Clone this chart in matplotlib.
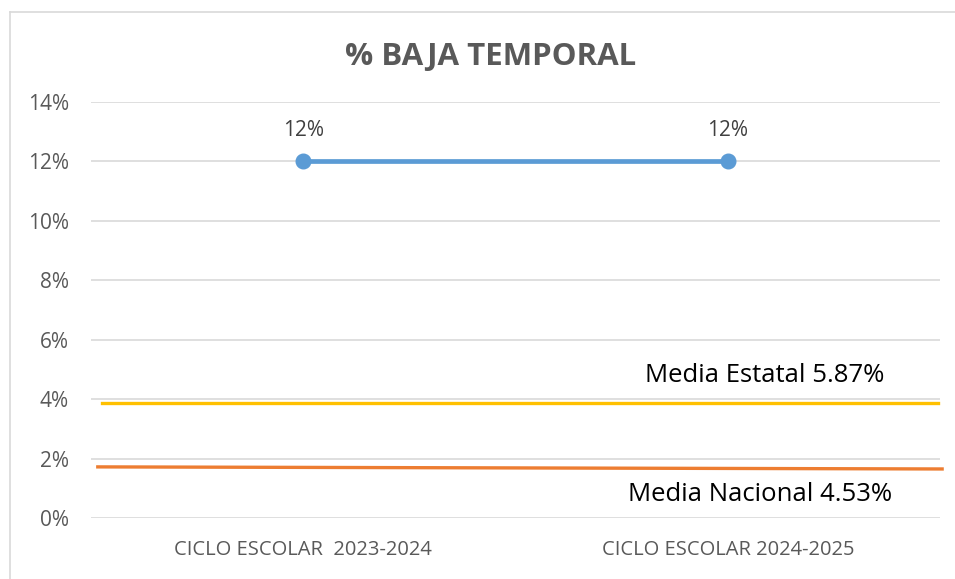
import matplotlib.pyplot as plt
from matplotlib.lines import Line2D

plt.rcParams['font.family'] = ['Open Sans', 'DejaVu Sans']

categories = ["CICLO ESCOLAR  2023-2024", "CICLO ESCOLAR 2024-2025"]
baja_temporal = [12, 12]
# reference lines drawn as shapes in the original (positions in axis units)
estatal_x = [-0.474, 1.495]
estatal_y = [3.87, 3.87]
nacional_x = [-0.484, 1.505]
nacional_y = [1.72, 1.65]
estatal_label = "Media Estatal 5.87%"
nacional_label = "Media Nacional 4.53%"
yticks = [0, 2, 4, 6, 8, 10, 12, 14]

fig = plt.figure(figsize=(9.55, 5.79), dpi=100)
ax = fig.add_axes([91 / 955, 1 - 518 / 579, 849 / 955, 416 / 579])

# chart frame
fig.add_artist(Line2D([10 / 955, 10 / 955], [0, 1 - 12 / 579], color="#D9D9D9", lw=1.2))
fig.add_artist(Line2D([10 / 955, 1], [1 - 12 / 579, 1 - 12 / 579], color="#D9D9D9", lw=1.2))

xs = list(range(len(categories)))
ax.plot(xs, baja_temporal, color="#5B9BD5", lw=3.4, marker="o", markersize=10.5, zorder=4)
for x, v in zip(xs, baja_temporal):
    ax.annotate(f"{v}%", (x, v), xytext=(0, 22), textcoords="offset points",
                ha="center", va="center", fontsize=15, color="#404040")

ax.plot(estatal_x, estatal_y, color="#FFC000", lw=2.4, clip_on=False, zorder=3)
ax.plot(nacional_x, nacional_y, color="#ED7D31", lw=2.4, clip_on=False, zorder=3)
ax.text(0.805, 4.8, estatal_label, ha="left", va="center", fontsize=18.5, color="black")
ax.text(0.765, 0.8, nacional_label, ha="left", va="center", fontsize=18.5, color="black")

ax.set_xlim(-0.5, 1.5)
ax.set_ylim(0, 14)
ax.set_yticks(yticks)
ax.set_yticklabels([f"{t}%" for t in yticks])
ax.set_xticks(xs)
ax.set_xticklabels(categories)
ax.tick_params(axis="y", length=0, pad=16, labelsize=15, labelcolor="#595959")
ax.tick_params(axis="x", length=0, pad=15.5, labelsize=14.5, labelcolor="#595959")
ax.grid(axis="y", color="#D9D9D9", lw=1.2)
ax.set_axisbelow(True)
for s in ax.spines.values():
    s.set_visible(False)

fig.text(491 / 955, 1 - 57 / 579, "% BAJA TEMPORAL", ha="center", va="center",
         fontsize=22.5, fontweight="bold", color="#595959")

fig.savefig("out.png", dpi=100)
